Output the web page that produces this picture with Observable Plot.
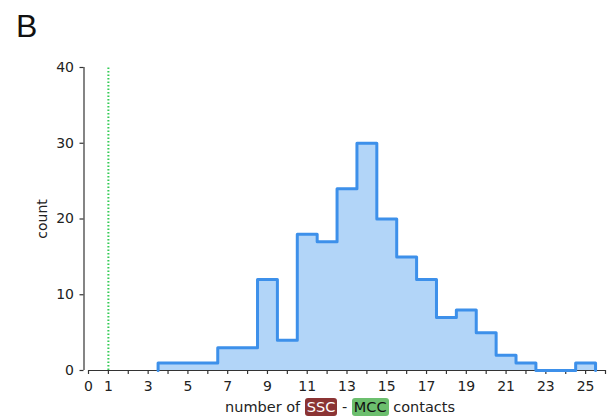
<!DOCTYPE html>
<html>
<head>
<meta charset="utf-8">
<script src="https://cdn.jsdelivr.net/npm/d3@7"></script>
<script src="https://cdn.jsdelivr.net/npm/@observablehq/plot@0.6"></script>
<style>
  html, body { margin: 0; padding: 0; background: #fff; }
  #wrap { position: relative; width: 610px; height: 416px; overflow: hidden; }
  #title { height: 52px; font-family: "Liberation Sans", Arial, sans-serif; font-size: 32px; line-height: 52px; padding-left: 16px; color: #111; }
  #caption { position: absolute; left: 0; width: 610px; top: 398px; height: 18px; line-height: 18px; font-family: "DejaVu Sans", sans-serif; font-size: 14.5px; color: #222; }
  #caption .inner { position: absolute; left: 225px; top: 0; white-space: nowrap; }
  .ssc { background: #8b3434; color: #fff; padding: 1px 2px; border-radius: 3px; }
  .mcc { background: #6cbf6e; color: #111; padding: 1px 2px; border-radius: 3px; }
  svg { display: block; }
</style>
</head>
<body>
<div id="wrap">
  <div id="title">B</div>
  <div id="chart"></div>
  <div id="caption"><span class="inner">number of <span class="ssc">SSC</span> - <span class="mcc">MCC</span> contacts</span></div>
</div>
<script>
// Histogram data: bin centers (integers) and counts
const binCenters = [4, 5, 6, 7, 8, 9, 10, 11, 12, 13, 14, 15, 16, 17, 18, 19, 20, 21, 22, 23, 24, 25];
const counts     = [1, 1, 1, 3, 3, 12, 4, 18, 17, 24, 30, 20, 15, 12, 7, 8, 5, 2, 1, 0, 0, 1];
const xTickLabels = [0, 1, 3, 5, 7, 9, 11, 13, 15, 17, 19, 21, 23, 25];
const yTicks = [0, 10, 20, 30, 40];
const referenceLine = [1];

// step outline points derived from the bins
const pts = [{x: binCenters[0] - 0.5, y: 0}];
binCenters.forEach((c, i) => pts.push({x: c - 0.5, y: counts[i]}));
pts.push({x: binCenters[binCenters.length - 1] + 0.5, y: 0});

const fontFam = "DejaVu Sans, sans-serif";
const chart = Plot.plot({
  width: 610,
  height: 346,
  marginLeft: 88,
  marginRight: 5,
  marginTop: 15,
  marginBottom: 28,
  style: {fontFamily: fontFam, fontSize: "14px", color: "#222", background: "transparent", overflow: "visible"},
  x: {domain: [0, 26]},
  y: {domain: [0, 40]},
  marks: [
    Plot.areaY(pts, {x: "x", y: "y", curve: "step-after", fill: "#b2d5f8"}),
    // y spine (offset)
    Plot.ruleX([0], {y1: 0, y2: 40, dx: -4.5, stroke: "#333", strokeWidth: 1.2}),
    Plot.axisY({ticks: yTicks, tickSize: 4, dx: -4.5, tickPadding: 6, label: null, stroke: "#333", strokeWidth: 1.2, fontSize: 14}),
    // x spine
    Plot.ruleY([0], {x1: 0, x2: 26, stroke: "#333", strokeWidth: 1.2}),
    Plot.axisX({ticks: d3.range(0, 27), tickSize: 4, tickPadding: 7, label: null, stroke: "#333", strokeWidth: 1.2, fontSize: 14,
      tickFormat: d => xTickLabels.includes(d) ? String(d) : ""}),
    Plot.line(pts, {x: "x", y: "y", curve: "step-after", stroke: "#3d90ea", strokeWidth: 3}),
    Plot.ruleX(referenceLine, {y1: 0, y2: 40, stroke: "#33cc55", strokeWidth: 2, strokeDasharray: "1.5,2"}),
    Plot.text(["count"], {frameAnchor: "left", textAnchor: "middle", dx: -46, rotate: -90, fontSize: 14, fill: "#222"})
  ]
});
document.getElementById("chart").appendChild(chart);
</script>
</body>
</html>
